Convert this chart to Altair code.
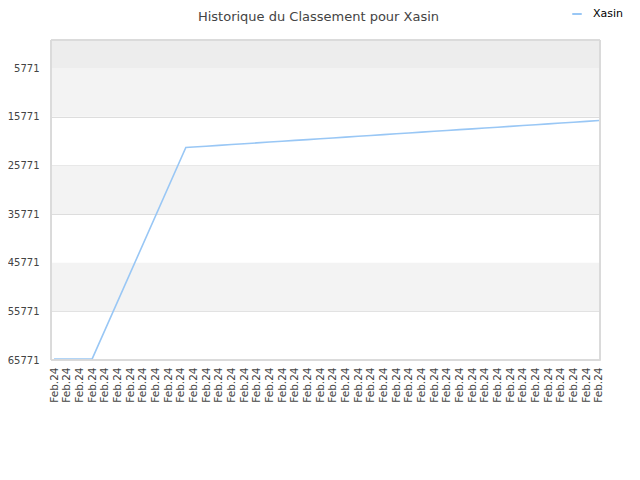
import altair as alt
import pandas as pd

# ---- data ----
t_vals = [0, 1, 2, 3, 10.4] + list(range(11, 44))
rank_vals = [65600, 65600, 65600, 65600, 22100,
             22000, 21830, 21660, 21490, 21320, 21150, 20980, 20810, 20640, 20470,
             20300, 20130, 19960, 19790, 19620, 19450, 19280, 19110, 18940, 18770,
             18600, 18430, 18260, 18090, 17920, 17750, 17580, 17410, 17240, 17070,
             16900, 16730, 16560]
series_name = "Xasin"
x_label = "Feb.24"
n_labels = 44
y_ticks = [5771, 15771, 25771, 35771, 45771, 55771, 65771]
band_lo = [1, 5771, 25771, 45771]
band_hi = [5771, 15771, 35771, 55771]
band_col = ["#ededed", "#f3f3f3", "#f3f3f3", "#f3f3f3"]

df = pd.DataFrame({"t": t_vals, "rank": rank_vals, "series": series_name})
bands = pd.DataFrame({"lo": band_lo, "hi": band_hi, "c": band_col})

W, H = 549, 320
yscale = alt.Scale(domain=[1, 65771], reverse=True, nice=False, zero=False)
xscale = alt.Scale(domain=[-0.24, 43.08], nice=False, zero=False)

yaxis = alt.Axis(values=y_ticks, format="d", labelFontSize=10,
                 labelFont="DejaVu Sans", labelColor="#444", labelPadding=12,
                 ticks=False, domain=False, grid=True, gridColor="#dddddd",
                 labelOverlap=False, title=None)

band_layer = alt.Chart(bands).mark_rect().encode(
    x=alt.value(0), x2=alt.value(W),
    y=alt.Y("lo:Q", scale=yscale, axis=yaxis),
    y2="hi:Q",
    fill=alt.Fill("c:N", scale=None, legend=None),
)

line = alt.Chart(df).mark_line(strokeWidth=1.6).encode(
    x=alt.X("t:Q", scale=xscale, title=None,
            axis=alt.Axis(values=list(range(n_labels)), labelExpr=f"'{x_label}'",
                          labelAngle=270, labelAlign="right", labelBaseline="middle",
                          labelFontSize=10.5, labelFont="DejaVu Sans", labelColor="#444",
                          labelPadding=7, ticks=False, domain=False, grid=False,
                          labelOverlap=False, labelBound=False, labelFlush=False)),
    y=alt.Y("rank:Q", scale=yscale, axis=yaxis),
    color=alt.Color("series:N",
                    scale=alt.Scale(domain=[series_name], range=["#99c7f5"]),
                    legend=alt.Legend(title=None, orient="none", legendX=520, legendY=-32,
                                      symbolType="stroke", symbolStrokeWidth=2, symbolSize=90,
                                      labelOffset=10,
                                      labelFontSize=11, labelFont="DejaVu Sans",
                                      labelColor="#000")),
)

border = alt.Chart(bands).mark_rect(fill=None, stroke="#d9d9d9", strokeWidth=1).encode(
    x=alt.value(0), x2=alt.value(W), y=alt.value(0), y2=alt.value(H),
)

chart = alt.layer(band_layer, line, border).resolve_scale(color="independent").properties(
    width=W, height=H,
    autosize=alt.AutoSizeParams(type="none"),
    padding={"left": 43, "top": 32, "right": 32, "bottom": 100},
    title=alt.TitleParams("Historique du Classement pour Xasin", fontSize=13,
                          font="DejaVu Sans", fontWeight="normal", color="#444",
                          anchor="middle", dx=-7, dy=20, offset=4),
).configure_view(stroke=None).configure(background="white")

chart.save("out.html", embed_options={"renderer": "svg", "actions": False})
